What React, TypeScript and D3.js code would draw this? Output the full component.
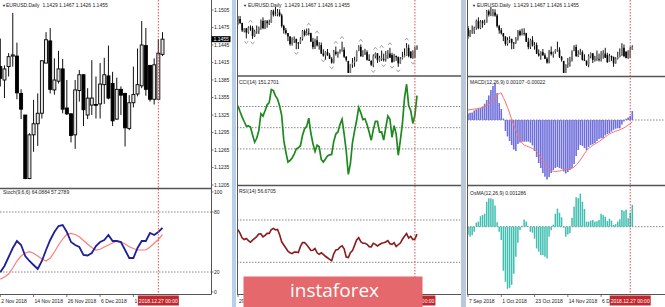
import React from 'react';
import * as d3 from 'd3';

// ---------- DATA (EURUSD daily, 29 Aug 2018 .. 28 Dec 2018) ----------
const opens = [1.1692,1.1706,1.1670,1.1598,1.1621,1.1583,1.1628,1.1624,1.1551,1.1594,1.1599,1.1625,1.1689,1.1623,1.1684,1.1668,1.1673,1.1776,1.1745,1.1747,1.1765,1.1738,1.1641,1.1604,1.1577,1.1547,1.1479,1.1515,1.1525,1.1491,1.1490,1.1524,1.1595,1.1561,1.1579,1.1577,1.1500,1.1451,1.1513,1.1466,1.1469,1.1392,1.1374,1.1404,1.1376,1.1345,1.1310,1.1408,1.1385,1.1408,1.1426,1.1426,1.1362,1.1325,1.1216,1.1291,1.1310,1.1328,1.1414,1.1452,1.1368,1.1383,1.1404,1.1337,1.1327,1.1291,1.1367,1.1394,1.1325,1.1342,1.1343,1.1344,1.1377,1.1392,1.1379,1.1318,1.1369,1.1362,1.1302,1.1346,1.1361,1.1375,1.1444,1.1410,1.1352,1.1352,1.1429];
const highs = [1.1733,1.1734,1.1672,1.1623,1.1625,1.1640,1.1648,1.1643,1.1608,1.1647,1.1637,1.1701,1.1721,1.1696,1.1697,1.1700,1.1788,1.1792,1.1815,1.1797,1.1794,1.1753,1.1653,1.1624,1.1578,1.1549,1.1540,1.1548,1.1527,1.1497,1.1541,1.1605,1.1610,1.1619,1.1621,1.1581,1.1535,1.1527,1.1550,1.1496,1.1492,1.1430,1.1413,1.1433,1.1395,1.1359,1.1425,1.1456,1.1410,1.1431,1.1500,1.1449,1.1369,1.1325,1.1294,1.1351,1.1362,1.1419,1.1467,1.1474,1.1422,1.1435,1.1421,1.1385,1.1328,1.1385,1.1402,1.1395,1.1371,1.1419,1.1391,1.1414,1.1423,1.1444,1.1399,1.1389,1.1374,1.1363,1.1359,1.1408,1.1439,1.1486,1.1474,1.1411,1.1422,1.1455,1.1467];
const lows = [1.1654,1.1660,1.1588,1.1584,1.1530,1.1571,1.1598,1.1525,1.1542,1.1571,1.1570,1.1608,1.1613,1.1614,1.1627,1.1651,1.1672,1.1728,1.1732,1.1730,1.1727,1.1627,1.1573,1.1565,1.1505,1.1463,1.1464,1.1487,1.1431,1.1433,1.1480,1.1510,1.1548,1.1556,1.1555,1.1497,1.1431,1.1433,1.1456,1.1427,1.1388,1.1364,1.1335,1.1371,1.1341,1.1300,1.1302,1.1374,1.1354,1.1391,1.1408,1.1352,1.1318,1.1215,1.1215,1.1262,1.1272,1.1319,1.1414,1.1362,1.1360,1.1379,1.1328,1.1325,1.1278,1.1267,1.1348,1.1306,1.1318,1.1325,1.1319,1.1319,1.1344,1.1352,1.1306,1.1317,1.1325,1.1271,1.1299,1.1338,1.1357,1.1371,1.1358,1.1348,1.1343,1.1352,1.1426];
const closes = [1.1707,1.1671,1.1603,1.1621,1.1583,1.1628,1.1624,1.1551,1.1594,1.1599,1.1625,1.1689,1.1623,1.1684,1.1668,1.1673,1.1776,1.1745,1.1747,1.1765,1.1738,1.1641,1.1604,1.1577,1.1547,1.1479,1.1515,1.1525,1.1491,1.1490,1.1524,1.1595,1.1561,1.1579,1.1577,1.1500,1.1451,1.1513,1.1466,1.1469,1.1392,1.1374,1.1404,1.1376,1.1345,1.1310,1.1410,1.1388,1.1404,1.1425,1.1428,1.1363,1.1335,1.1216,1.1291,1.1310,1.1328,1.1418,1.1454,1.1369,1.1385,1.1404,1.1335,1.1327,1.1290,1.1368,1.1394,1.1334,1.1354,1.1354,1.1342,1.1378,1.1394,1.1354,1.1315,1.1369,1.1359,1.1303,1.1346,1.1360,1.1377,1.1445,1.1369,1.1352,1.1411,1.1431,1.1455];

const LEFT_START = 47;   // 2 Nov 2018
const RIGHT_START = 7;   // 7 Sep 2018

const upFractals = [6, 34, 38, 47, 50, 59, 66, 69, 73, 81];
const downFractals = [4, 7, 28, 41, 45, 65, 70, 74, 77, 84];

const stochMain = [19.7,26,35,44,51,47,36,31,27,23,31,42,52,60,66,67,60,50,47,45,37,36.5,39,46,50,52,57,51,51,50,42,34,34,44,51,51,59,57,60,64.09];
const stochSignal = [12.7,15,18,24,31,36,39,40.3,38.7,36,33,31,33.7,40,47,53,57.7,58.7,57.5,55.3,51.5,47.7,44.5,42,42.7,45,47,49,51,50.3,48,45.3,43.5,42,42,42,45,48.7,52.5,57.28];

const cciValues = [103,75,50,28,8,9,3,-34,-68,-50,-14,66,55,80,108,118,180,175,150,135,102,57,-60,-115,-162,-155,-143,-125,-100,-95,-85,-36,-5,6,45,-25,-75,-112,-82,-90,-150,-162,-148,-133,-128,-126,-65,-30,-20,15,40,-30,-110,-220,-170,-70,-15,35,95,70,38,42,15,-20,-60,-10,30,30,-21,-20,-58,0,55,40,-45,10,-30,-130,-60,20,140,205,105,80,20,60,151.27];
const rsiValues = [61,57.3,53,51.5,52.5,50.5,49,51,52.7,54.3,56.7,57,54,55.5,57.4,57.4,61,62,60.6,61,56,49.4,46.4,43.5,40.5,39,38.2,39.6,39.8,39.3,45,48.6,48.6,46.6,44,41.2,41.4,43,39,37.5,39,37.5,35.7,34.3,32.8,31.5,38,41.7,42,44.4,45.6,42.8,35,34.5,39,41,46,51.1,53.3,49.5,48,48,47,44.8,44.5,48,47,45.5,46.8,48,48.4,49.2,50.6,47.5,47,48.5,45,46.6,48.2,51.8,54.6,57.2,53,54.5,51.5,52,56.67];

const macdHist = [0.00077,0.00086,0.00089,0.00113,0.00127,0.00139,0.00143,0.00161,0.00194,0.00238,0.00292,0.00357,0.00405,0.00437,0.00321,0.00202,0.00131,0.00018,-0.00131,-0.00196,-0.00250,-0.00298,-0.00351,-0.00369,-0.00286,-0.00268,-0.00258,-0.00258,-0.00258,-0.00258,-0.00270,-0.00303,-0.00369,-0.00440,-0.00512,-0.00571,-0.00631,-0.00675,-0.00708,-0.00678,-0.00631,-0.00595,-0.00571,-0.00559,-0.00571,-0.00583,-0.00613,-0.00637,-0.00619,-0.00595,-0.00571,-0.00524,-0.00428,-0.00357,-0.00298,-0.00309,-0.00333,-0.00357,-0.00321,-0.00298,-0.00289,-0.00274,-0.00250,-0.00226,-0.00218,-0.00218,-0.00184,-0.00167,-0.00158,-0.00137,-0.00117,-0.00104,-0.00099,-0.00099,-0.00054,-0.00018,0.00015,0.00030,0.00048,0.00107];
const macdSignal = [0.00119,0.00123,0.00126,0.00130,0.00133,0.00138,0.00143,0.00149,0.00157,0.00170,0.00188,0.00220,0.00244,0.00262,0.00298,0.00315,0.00321,0.00268,0.00214,0.00149,0.00083,0.00000,-0.00060,-0.00119,-0.00184,-0.00232,-0.00274,-0.00298,-0.00309,-0.00318,-0.00327,-0.00339,-0.00351,-0.00375,-0.00405,-0.00449,-0.00484,-0.00518,-0.00553,-0.00577,-0.00601,-0.00610,-0.00615,-0.00610,-0.00607,-0.00599,-0.00593,-0.00583,-0.00583,-0.00580,-0.00575,-0.00559,-0.00536,-0.00512,-0.00476,-0.00440,-0.00399,-0.00367,-0.00339,-0.00321,-0.00301,-0.00286,-0.00271,-0.00256,-0.00238,-0.00220,-0.00202,-0.00184,-0.00167,-0.00152,-0.00143,-0.00131,-0.00125,-0.00117,-0.00105,-0.00093,-0.00077,-0.00060,-0.00044,-0.00022];
const osmaValues = [-0.00047,-0.00059,-0.00050,-0.00030,0.00024,0.00030,0.00062,0.00069,0.00077,0.00148,0.00168,0.00168,0.00163,0.00125,0.00027,-0.00030,-0.00079,-0.00261,-0.00326,-0.00368,-0.00362,-0.00344,-0.00279,-0.00178,-0.00095,-0.00020,0.00006,0.00042,0.00030,0.00000,-0.00030,-0.00036,-0.00071,-0.00129,-0.00148,-0.00168,-0.00168,-0.00178,-0.00188,-0.00059,-0.00021,0.00012,0.00077,0.00107,0.00083,0.00056,-0.00006,-0.00059,-0.00046,-0.00039,0.00053,0.00119,0.00175,0.00169,0.00196,0.00148,0.00105,0.00030,0.00030,0.00036,0.00040,0.00030,0.00033,0.00040,0.00077,0.00069,0.00059,0.00033,0.00047,0.00036,0.00010,0.00015,0.00030,0.00044,0.00099,0.00092,0.00101,0.00050,0.00083,0.00129];

const leftPriceTicks = [1.1505,1.1475,1.1445,1.1415,1.1385,1.1355,1.1325,1.1295,1.1265,1.1235,1.1205];
const stochTicks = [100, 80, 20, 0];
const stochLevels = [80, 20];
const cciLevels = [100, 0, -100];
const rsiLevels = [70, 30];
const leftDateLabels = ['2 Nov 2018','14 Nov 2018','26 Nov 2018','6 Dec 2018','18 Dec 2018'];
const leftDateIdx = [0, 8, 16, 24, 32];
const midDateLabels = ['29 Aug 2018'];
const midDateIdx = [0];
const rightDateLabels = ['7 Sep 2018','1 Oct 2018','23 Oct 2018','14 Nov 2018','6 Dec 2018'];
const rightDateIdx = [0, 16, 32, 48, 64];

const headerText = 'EURUSD.Daily  1.1429 1.1467 1.1426 1.1455';
const currentPrice = 1.1455;
const markerLabel = '2018.12.27 00:00';

// ---------- STYLE ----------
const FONT = '"Liberation Sans", Arial, sans-serif';
const FS = 5;
const TXT = '#1a1a1a';
const AXIS = '#555';
const VLINE = '#e03a3a';
const DATEBOX = '#c1272d';

function Candles({ idxs, x, y, bodyW, mode }) {
  return (
    <g>
      {idxs.map((g, i) => {
        const cx = x(i);
        const o = opens[g], c = closes[g], h = highs[g], l = lows[g];
        const bull = c >= o;
        const top = y(Math.max(o, c));
        const bot = y(Math.min(o, c));
        const bh = Math.max(bot - top, 0.8);
        return (
          <g key={g}>
            <line x1={cx} x2={cx} y1={y(h)} y2={y(l)} stroke="#111" strokeWidth={1} />
            {mode === 'wide' ? (
              <rect x={cx - bodyW / 2} y={top} width={bodyW} height={bh}
                fill={bull ? '#e6e6e6' : '#000'} stroke="#000" strokeWidth={0.9} />
            ) : (
              <rect x={cx - bodyW / 2} y={top} width={bodyW} height={bh}
                fill={bull ? '#7a7a7a' : '#000'} />
            )}
          </g>
        );
      })}
    </g>
  );
}

function DottedH({ x1, x2, y }) {
  return <line x1={x1} x2={x2} y1={y} y2={y} stroke="#666" strokeWidth={0.8} strokeDasharray="1.5,1.5" />;
}

function DateAxis({ labels, idxs, x, clipId }) {
  return (
    <g clipPath={clipId ? `url(#${clipId})` : undefined}>
      {labels.map((lab, k) => (
        <g key={lab}>
          <line x1={x(idxs[k])} x2={x(idxs[k])} y1={294.5} y2={297} stroke={AXIS} strokeWidth={0.8} />
          <text x={x(idxs[k]) + 1} y={303} fontSize={FS} fill={TXT} fontFamily={FONT}>{lab}</text>
        </g>
      ))}
    </g>
  );
}

function DateMarker({ cx }) {
  return (
    <g>
      <rect x={cx - 20.5} y={295.5} width={41} height={10} fill={DATEBOX} />
      <text x={cx} y={302.6} fontSize={FS} fill="#fff" fontFamily={FONT} textAnchor="middle">{markerLabel}</text>
    </g>
  );
}

export default function App() {
  const leftIdx = d3.range(LEFT_START, opens.length);
  const midIdx = d3.range(0, opens.length);
  const rightIdx = d3.range(RIGHT_START, opens.length);

  // Left panel scales
  const xL = d3.scaleLinear().domain([0, leftIdx.length - 1]).range([0.3, 162.5]);
  const yL = d3.scaleLinear().domain([1.1205, 1.1505]).range([185, 10]);
  const yStoch = d3.scaleLinear().domain([0, 100]).range([292, 192]);

  // Middle panel
  const xM = d3.scaleLinear().domain([0, midIdx.length - 1]).range([238, 417]);
  const yP = d3.scaleLinear().domain([1.1215, 1.1815]).range([73, 7]);
  const yCCI = d3.scaleLinear().domain([-100, 100]).range([148.9, 106.5]);
  const yRSI = d3.scaleLinear().domain([30, 70]).range([262.3, 220]);

  // Right panel
  const xR = d3.scaleLinear().domain([0, rightIdx.length - 1]).range([468, 632.3]);
  const yMACD = d3.scaleLinear().domain([0, 0.00119]).range([120, 110]);
  const yOsMA = d3.scaleLinear().domain([0, 0.001286]).range([226.7, 205]);

  const stochLine = d3.line<number>().x((_, i) => xL(i)).y(v => yStoch(v)).curve(d3.curveLinear);
  const cciLine = d3.line<number>().x((_, i) => xM(i)).y(v => yCCI(v));
  const rsiLine = d3.line<number>().x((_, i) => xM(i)).y(v => yRSI(v));
  const sigLine = d3.line<number>().x((_, i) => xR(i)).y(v => yMACD(v));

  const vL = xL(38), vM = xM(85), vR = xR(78);

  return (
    <svg width={665} height={307} viewBox="0 0 665 307"
      style={{ position: 'absolute', left: 0, top: 0, background: '#fff' }}>
      <defs>
        <clipPath id="cLeftP"><rect x={0} y={0} width={211} height={188} /></clipPath>
        <clipPath id="cLeftS"><rect x={0} y={190} width={211} height={104} /></clipPath>
        <clipPath id="cMid"><rect x={237} y={0} width={6.5} height={307} /></clipPath>
        <clipPath id="cMidP"><rect x={237.5} y={0} width={223} height={75.5} /></clipPath>
        <clipPath id="cMidC"><rect x={237.5} y={77.5} width={223} height={107} /></clipPath>
        <clipPath id="cMidR"><rect x={237.5} y={187} width={223} height={107} /></clipPath>
        <clipPath id="cRight"><rect x={467} y={0} width={198} height={307} /></clipPath>
        <clipPath id="cRightDates"><rect x={467} y={0} width={143} height={307} /></clipPath>
        <clipPath id="cLeftAll"><rect x={0} y={0} width={137} height={307} /></clipPath>
      </defs>
      <rect x={0} y={0} width={665} height={307} fill="#fff" />

      {/* ================= LEFT PANEL ================= */}
      <g clipPath="url(#cLeftP)">
        <Candles idxs={leftIdx} x={xL} y={yL} bodyW={3} mode="wide" />
      </g>
      <g clipPath="url(#cLeftS)">
        {stochLevels.map(l => <DottedH key={l} x1={0} x2={211} y={yStoch(l)} />)}
        <path d={stochLine(stochSignal) || ''} fill="none" stroke="#ff7b7b" strokeWidth={1.2} />
        <path d={stochLine(stochMain) || ''} fill="none" stroke="#1f1f9a" strokeWidth={1.8} />
      </g>
      {/* frame */}
      <line x1={211.5} x2={211.5} y1={0} y2={294.5} stroke={AXIS} strokeWidth={1} />
      <line x1={0} x2={211.5} y1={188.5} y2={188.5} stroke="#555" strokeWidth={1.6} />
      <line x1={0} x2={211.5} y1={294.5} y2={294.5} stroke={AXIS} strokeWidth={1} />
      {/* price axis */}
      {leftPriceTicks.map(p => (
        <g key={p}>
          <line x1={211.5} x2={213.5} y1={yL(p)} y2={yL(p)} stroke={AXIS} strokeWidth={0.8} />
          <text x={214} y={yL(p) + 1.8} fontSize={FS} fill={TXT} fontFamily={FONT}>{p.toFixed(4)}</text>
        </g>
      ))}
      <rect x={211.5} y={yL(currentPrice) - 3} width={19} height={6} fill="#000" />
      <text x={213.5} y={yL(currentPrice) + 1.8} fontSize={FS} fill="#fff" fontFamily={FONT}>{currentPrice.toFixed(4)}</text>
      {stochTicks.map(t => (
        <g key={t}>
          <line x1={211.5} x2={213.5} y1={yStoch(t)} y2={yStoch(t)} stroke={AXIS} strokeWidth={0.8} />
          <text x={214} y={yStoch(t) + 1.8} fontSize={FS} fill={TXT} fontFamily={FONT}>{t}</text>
        </g>
      ))}
      <text x={2} y={7} fontSize={4} fill={TXT} fontFamily={FONT}>▼</text>
      <text x={6} y={7} fontSize={FS} fill={TXT} fontFamily={FONT} style={{ whiteSpace: 'pre' }}>{headerText}</text>
      <text x={3} y={194} fontSize={FS} fill={TXT} fontFamily={FONT}>Stoch(9,6,6) 64.0884 57.2789</text>
      <DateAxis labels={leftDateLabels} idxs={leftDateIdx} x={xL} clipId="cLeftAll" />
      <line x1={vL} x2={vL} y1={0} y2={294} stroke={VLINE} strokeWidth={0.9} strokeDasharray="1.5,1.5" />
      <DateMarker cx={vL} />

      {/* separator between left and middle */}
      <rect x={232} y={0} width={4} height={307} fill="#b7cfe8" />

      {/* ================= MIDDLE PANEL ================= */}
      <g clipPath="url(#cMidP)">
        <Candles idxs={midIdx} x={xM} y={yP} bodyW={1.6} mode="thin" />
        {upFractals.map(g => {
          const cx = xM(g), cy = yP(highs[g]) - 4;
          return <polyline key={'u' + g} points={`${cx - 1.8},${cy + 1.2} ${cx},${cy - 1.2} ${cx + 1.8},${cy + 1.2}`} fill="none" stroke="#9a9a9a" strokeWidth={0.9} />;
        })}
        {downFractals.map(g => {
          const cx = xM(g), cy = yP(lows[g]) + 4;
          return <polyline key={'d' + g} points={`${cx - 1.8},${cy - 1.2} ${cx},${cy + 1.2} ${cx + 1.8},${cy - 1.2}`} fill="none" stroke="#9a9a9a" strokeWidth={0.9} />;
        })}
      </g>
      <g clipPath="url(#cMidC)">
        {cciLevels.map(l => <DottedH key={l} x1={237} x2={461} y={yCCI(l)} />)}
        <path d={cciLine(cciValues) || ''} fill="none" stroke="#1c8a1c" strokeWidth={1.7} />
      </g>
      <g clipPath="url(#cMidR)">
        {rsiLevels.map(l => <DottedH key={l} x1={237} x2={461} y={yRSI(l)} />)}
        <path d={rsiLine(rsiValues) || ''} fill="none" stroke="#8b1a1a" strokeWidth={1.6} />
      </g>
      <line x1={237.5} x2={237.5} y1={0} y2={294.5} stroke={AXIS} strokeWidth={1} />
      <line x1={237} x2={461} y1={76} y2={76} stroke="#555" strokeWidth={1.6} />
      <line x1={237} x2={461} y1={185.5} y2={185.5} stroke="#555" strokeWidth={1.6} />
      <line x1={237} x2={461} y1={294.5} y2={294.5} stroke={AXIS} strokeWidth={1} />
      <text x={243} y={7} fontSize={4} fill={TXT} fontFamily={FONT}>▼</text>
      <text x={248} y={7} fontSize={FS} fill={TXT} fontFamily={FONT} style={{ whiteSpace: 'pre' }}>{headerText}</text>
      <text x={239} y={84} fontSize={FS} fill={TXT} fontFamily={FONT}>CCI(14) 151.2701</text>
      <text x={239} y={193} fontSize={FS} fill={TXT} fontFamily={FONT}>RSI(14) 56.6705</text>
      <DateAxis labels={midDateLabels} idxs={midDateIdx} x={xM} clipId="cMid" />
      <line x1={vM} x2={vM} y1={0} y2={294} stroke={VLINE} strokeWidth={0.9} strokeDasharray="1.5,1.5" />
      <DateMarker cx={vM} />

      {/* separator between middle and right */}
      <rect x={461} y={0} width={5} height={307} fill="#bcc8d8" />

      {/* ================= RIGHT PANEL ================= */}
      <g clipPath="url(#cRight)">
        <Candles idxs={rightIdx} x={xR} y={yP} bodyW={1.6} mode="thin" />
        <DottedH x1={467} x2={665} y={yMACD(0)} />
        {macdHist.map((v, i) => (
          <rect key={'m' + i} x={xR(i) - 0.8} width={1.6}
            y={Math.min(yMACD(v), yMACD(0))} height={Math.abs(yMACD(v) - yMACD(0))} fill="#6f6fdc" />
        ))}
        <path d={sigLine(macdSignal) || ''} fill="none" stroke="#ff6e6e" strokeWidth={1} />
        <DottedH x1={467} x2={665} y={yOsMA(0)} />
        {osmaValues.map((v, i) => (
          <rect key={'o' + i} x={xR(i) - 0.75} width={1.5}
            y={Math.min(yOsMA(v), yOsMA(0))} height={Math.abs(yOsMA(v) - yOsMA(0))} fill="#3fbfb1" />
        ))}
      </g>
      <DateAxis labels={rightDateLabels} idxs={rightDateIdx} x={xR} clipId="cRightDates" />
      <line x1={467.5} x2={467.5} y1={0} y2={294.5} stroke={AXIS} strokeWidth={1} />
      <line x1={467} x2={665} y1={76.5} y2={76.5} stroke="#555" strokeWidth={1.6} />
      <line x1={467} x2={665} y1={185.5} y2={185.5} stroke="#555" strokeWidth={1.6} />
      <line x1={467} x2={665} y1={294.5} y2={294.5} stroke={AXIS} strokeWidth={1} />
      <text x={472} y={7} fontSize={4} fill={TXT} fontFamily={FONT}>▼</text>
      <text x={477} y={7} fontSize={FS} fill={TXT} fontFamily={FONT} style={{ whiteSpace: 'pre' }}>{headerText}</text>
      <text x={470} y={84} fontSize={FS} fill={TXT} fontFamily={FONT}>MACD(12,26,9) 0.00107 -0.00022</text>
      <text x={470} y={195} fontSize={FS} fill={TXT} fontFamily={FONT}>OsMA(12,26,9) 0.001286</text>
      <line x1={vR} x2={vR} y1={0} y2={294} stroke={VLINE} strokeWidth={0.9} strokeDasharray="1.5,1.5" />
      <DateMarker cx={vR} />

      {/* ================= LOGO ================= */}
      <rect x={243.5} y={276.5} width={179} height={31} fill="#e4686c" />
      <text x={290} y={297} fontSize={19} fill="#fff" fontFamily='"Open Sans", "Noto Sans", sans-serif'>instaforex</text>
    </svg>
  );
}
